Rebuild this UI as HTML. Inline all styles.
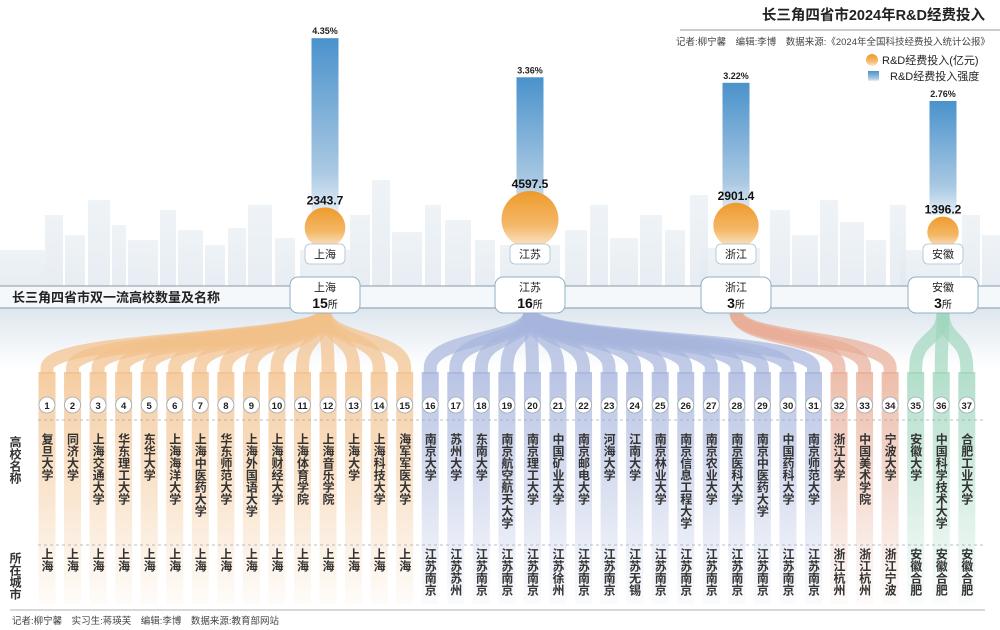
<!DOCTYPE html>
<html><head><meta charset="utf-8"><style>
html,body{margin:0;padding:0;background:#fff;}
svg{display:block;font-family:"Liberation Sans","Noto Sans CJK SC",sans-serif;}
</style></head><body>
<svg id="c" width="1000" height="630" viewBox="0 0 1000 630" xmlns="http://www.w3.org/2000/svg">
<defs>
<linearGradient id="barg" x1="0" y1="0" x2="0" y2="1"><stop offset="0" stop-color="#4a92cc"/><stop offset="0.75" stop-color="#a9c8e2"/><stop offset="1" stop-color="#e8f0f7"/></linearGradient>
<linearGradient id="circg" x1="0" y1="0" x2="0" y2="1"><stop offset="0" stop-color="#ee9a2c"/><stop offset="0.6" stop-color="#f4b868"/><stop offset="1" stop-color="#fbe8d0"/></linearGradient>
<linearGradient id="skyg" x1="0" y1="0" x2="0" y2="1"><stop offset="0" stop-color="#e9eff4"/><stop offset="1" stop-color="#dfe7ee"/></linearGradient>
<linearGradient id="bandbg" x1="0" y1="0" x2="0" y2="1"><stop offset="0" stop-color="#dde6ee"/><stop offset="1" stop-color="#ffffff"/></linearGradient>
<linearGradient id="g0" x1="0" y1="0" x2="0" y2="1"><stop offset="0" stop-color="#f2c08a" stop-opacity="0.8"/><stop offset="1" stop-color="#f2c08a" stop-opacity="0.05"/></linearGradient>
<linearGradient id="g1" x1="0" y1="0" x2="0" y2="1"><stop offset="0" stop-color="#a7b5dd" stop-opacity="0.8"/><stop offset="1" stop-color="#a7b5dd" stop-opacity="0.05"/></linearGradient>
<linearGradient id="g2" x1="0" y1="0" x2="0" y2="1"><stop offset="0" stop-color="#e8ad96" stop-opacity="0.8"/><stop offset="1" stop-color="#e8ad96" stop-opacity="0.05"/></linearGradient>
<linearGradient id="g3" x1="0" y1="0" x2="0" y2="1"><stop offset="0" stop-color="#9fd6bd" stop-opacity="0.8"/><stop offset="1" stop-color="#9fd6bd" stop-opacity="0.05"/></linearGradient>
</defs>
<g id="sky"></g>
<rect x="0" y="308" width="1000" height="60" fill="url(#bandbg)"/>
<g id="bars"></g>
<g id="fans"></g>
<g id="cols"></g>
<g>
<text x="985" y="20" text-anchor="end" font-size="14.5" font-weight="bold" fill="#222">长三角四省市2024年R&amp;D经费投入</text>
<line x1="680" y1="30" x2="1000" y2="30" stroke="#999" stroke-width="1"/>
<text x="990" y="45" text-anchor="end" font-size="9.5" fill="#444">记者:柳宁馨　编辑:李博　数据来源:《2024年全国科技经费投入统计公报》</text>
<circle cx="872" cy="60" r="6" fill="url(#circg)"/>
<text x="882" y="64" font-size="11" fill="#222">R&amp;D经费投入(亿元)</text>
<rect x="868" y="71" width="11" height="10" fill="url(#barg)"/>
<text x="890" y="80" font-size="11" fill="#222">R&amp;D经费投入强度</text>
</g>
<g>
<rect x="0" y="286" width="1000" height="22" fill="#f3f6f9" opacity="0.8"/>
<line x1="0" y1="286" x2="1000" y2="286" stroke="#8899a8" stroke-width="1"/>
<line x1="0" y1="308" x2="1000" y2="308" stroke="#8899a8" stroke-width="1"/>
<text x="12" y="302" font-size="13" font-weight="bold" fill="#222">长三角四省市双一流高校数量及名称</text>
</g>
<g id="pills"></g>
<g>
<line x1="38" y1="420" x2="985" y2="420" stroke="#9ab" stroke-dasharray="3,3" stroke-width="0.8"/>
<line x1="38" y1="545" x2="985" y2="545" stroke="#9ab" stroke-dasharray="3,3" stroke-width="0.8"/>
<text x="15" y="436" font-size="12" font-weight="bold" fill="#333" style="writing-mode:vertical-rl">高校名称</text>
<text x="15" y="552" font-size="12" font-weight="bold" fill="#333" style="writing-mode:vertical-rl">所在城市</text>
</g>
<line x1="10" y1="610" x2="985" y2="610" stroke="#999" stroke-width="0.8"/>
<text x="12" y="624" font-size="9.5" fill="#444">记者:柳宁馨　实习生:蒋瑛芙　编辑:李博　数据来源:教育部网站</text>
</svg>
<script>
const provinces=["上海","江苏","浙江","安徽"];
const rdInput=[2343.7,4597.5,2901.4,1396.2];
const rdIntensity=[4.35,3.36,3.22,2.76];
const uniCounts=[15,16,3,3];
const uniNames=["复旦大学","同济大学","上海交通大学","华东理工大学","东华大学","上海海洋大学","上海中医药大学","华东师范大学","上海外国语大学","上海财经大学","上海体育学院","上海音乐学院","上海大学","上海科技大学","海军军医大学","南京大学","苏州大学","东南大学","南京航空航天大学","南京理工大学","中国矿业大学","南京邮电大学","河海大学","江南大学","南京林业大学","南京信息工程大学","南京农业大学","南京医科大学","南京中医药大学","中国药科大学","南京师范大学","浙江大学","中国美术学院","宁波大学","安徽大学","中国科学技术大学","合肥工业大学"];
const uniCities=["上海","上海","上海","上海","上海","上海","上海","上海","上海","上海","上海","上海","上海","上海","上海","江苏南京","江苏苏州","江苏南京","江苏南京","江苏南京","江苏徐州","江苏南京","江苏南京","江苏无锡","江苏南京","江苏南京","江苏南京","江苏南京","江苏南京","江苏南京","江苏南京","浙江杭州","浙江杭州","浙江宁波","安徽合肥","安徽合肥","安徽合肥"];
const NS="http://www.w3.org/2000/svg";
function mk(t,a,p,txt){const e=document.createElementNS(NS,t);for(const k in a)e.setAttribute(k,a[k]);if(txt!==undefined)e.textContent=txt;p.appendChild(e);return e;}
const provX=[325,530,736,943];
const yBar=v=>210-v*39.5;
const rCirc=v=>0.42*Math.sqrt(v);
const colX=i=>47+i*25.55;
const sky=document.getElementById('sky');
const bld=[[45,215,18],[65,235,20],[88,200,22],[112,225,14],[128,240,30],[160,210,16],[178,230,25],[205,245,20],[228,228,18],[248,205,24],[275,238,20],[350,215,20],[372,180,18],[392,232,30],[425,205,16],[445,220,26],[475,240,20],[565,230,22],[590,205,18],[610,238,28],[640,215,22],[665,230,20],[690,195,18],[770,210,20],[792,235,26],[820,200,18],[840,222,24],[866,240,20],[890,205,16],[962,215,18],[982,235,18],[0,250,45],[300,250,50],[500,245,60],[700,248,60],[900,250,60]];
bld.forEach(b=>{const e=mk('rect',{x:b[0],y:b[1],width:b[2],height:286-b[1],fill:'url(#skyg)',opacity:0.75},sky);

});
const bars=document.getElementById('bars');
provinces.forEach((p,i)=>{
 const x=provX[i],top=yBar(rdIntensity[i]);
 const b=mk('rect',{x:x-13.5,y:top,width:27,height:215-top,fill:'url(#barg)'},bars);
 
 
 const t=mk('text',{x:x,y:top-4,'text-anchor':'middle','font-size':9,'font-weight':'bold',fill:'#222'},bars,rdIntensity[i].toFixed(2)+'%');
 
 
 const r=rCirc(rdInput[i]),cy=248-r;
 const c=mk('circle',{cx:x,cy:cy,r:r,fill:'url(#circg)'},bars);
 
 
 const v=mk('text',{x:x,y:cy-r-3,'text-anchor':'middle','font-size':12,'font-weight':'bold',fill:'#111'},bars,rdInput[i].toFixed(1));
 
 
 const pl=mk('rect',{x:x-20,y:244,width:40,height:20,rx:5,fill:'#fff',stroke:'#aac0d2','stroke-width':0.8},bars);
 
 
 const pt=mk('text',{x:x,y:258,'text-anchor':'middle','font-size':11,fill:'#222'},bars,p);
 
 
});
const fans=document.getElementById('fans'),cols=document.getElementById('cols');
let idx=0;
provinces.forEach((p,pi)=>{
 for(let k=0;k<uniCounts[pi];k++){
  const i=idx,x=colX(i),px=provX[pi];
  const col=mk('rect',{x:x-8.5,y:372,width:17,height:232,fill:'url(#g'+pi+')'},cols);
  
  
  const f=mk('path',{d:`M${px},312 C${px},342 ${x},335 ${x},368 L${x},374`,fill:'none',stroke:['#f2c08a','#a7b5dd','#e8ad96','#9fd6bd'][pi],'stroke-width':13,opacity:0.7},fans);
  
  
  const nc=mk('circle',{cx:x,cy:405,r:8,fill:'#fff',stroke:'#9aa8b4','stroke-width':0.8},cols);
  
  
  const nt=mk('text',{x:x,y:409,'text-anchor':'middle','font-size':9.5,'font-weight':'bold',fill:'#222'},cols,String(i+1));
  
  
  const un=mk('text',{x:x,y:433,'font-size':12,'font-weight':'bold',fill:'#333',style:'writing-mode:vertical-rl'},cols,uniNames[i]);
  
  
  const uc=mk('text',{x:x,y:548,'font-size':12,'font-weight':'bold',fill:'#333',style:'writing-mode:vertical-rl'},cols,uniCities[i]);
  
  
  idx++;
 }
});
const pills=document.getElementById('pills');
provinces.forEach((p,i)=>{
 const x=provX[i];
 const r=mk('rect',{x:x-35,y:277,width:70,height:36,rx:8,fill:'#fff',stroke:'#8fb0c8','stroke-width':1},pills);
 
 
 const t1=mk('text',{x:x,y:291,'text-anchor':'middle','font-size':11,fill:'#222'},pills,p);
 
 
 const t2=mk('text',{x:x,y:308,'text-anchor':'middle',fill:'#111'},pills);
 
 
 mk('tspan',{'font-size':14,'font-weight':'bold'},t2,String(uniCounts[i]));
 mk('tspan',{'font-size':10},t2,'所');
});
</script>
</body></html>
